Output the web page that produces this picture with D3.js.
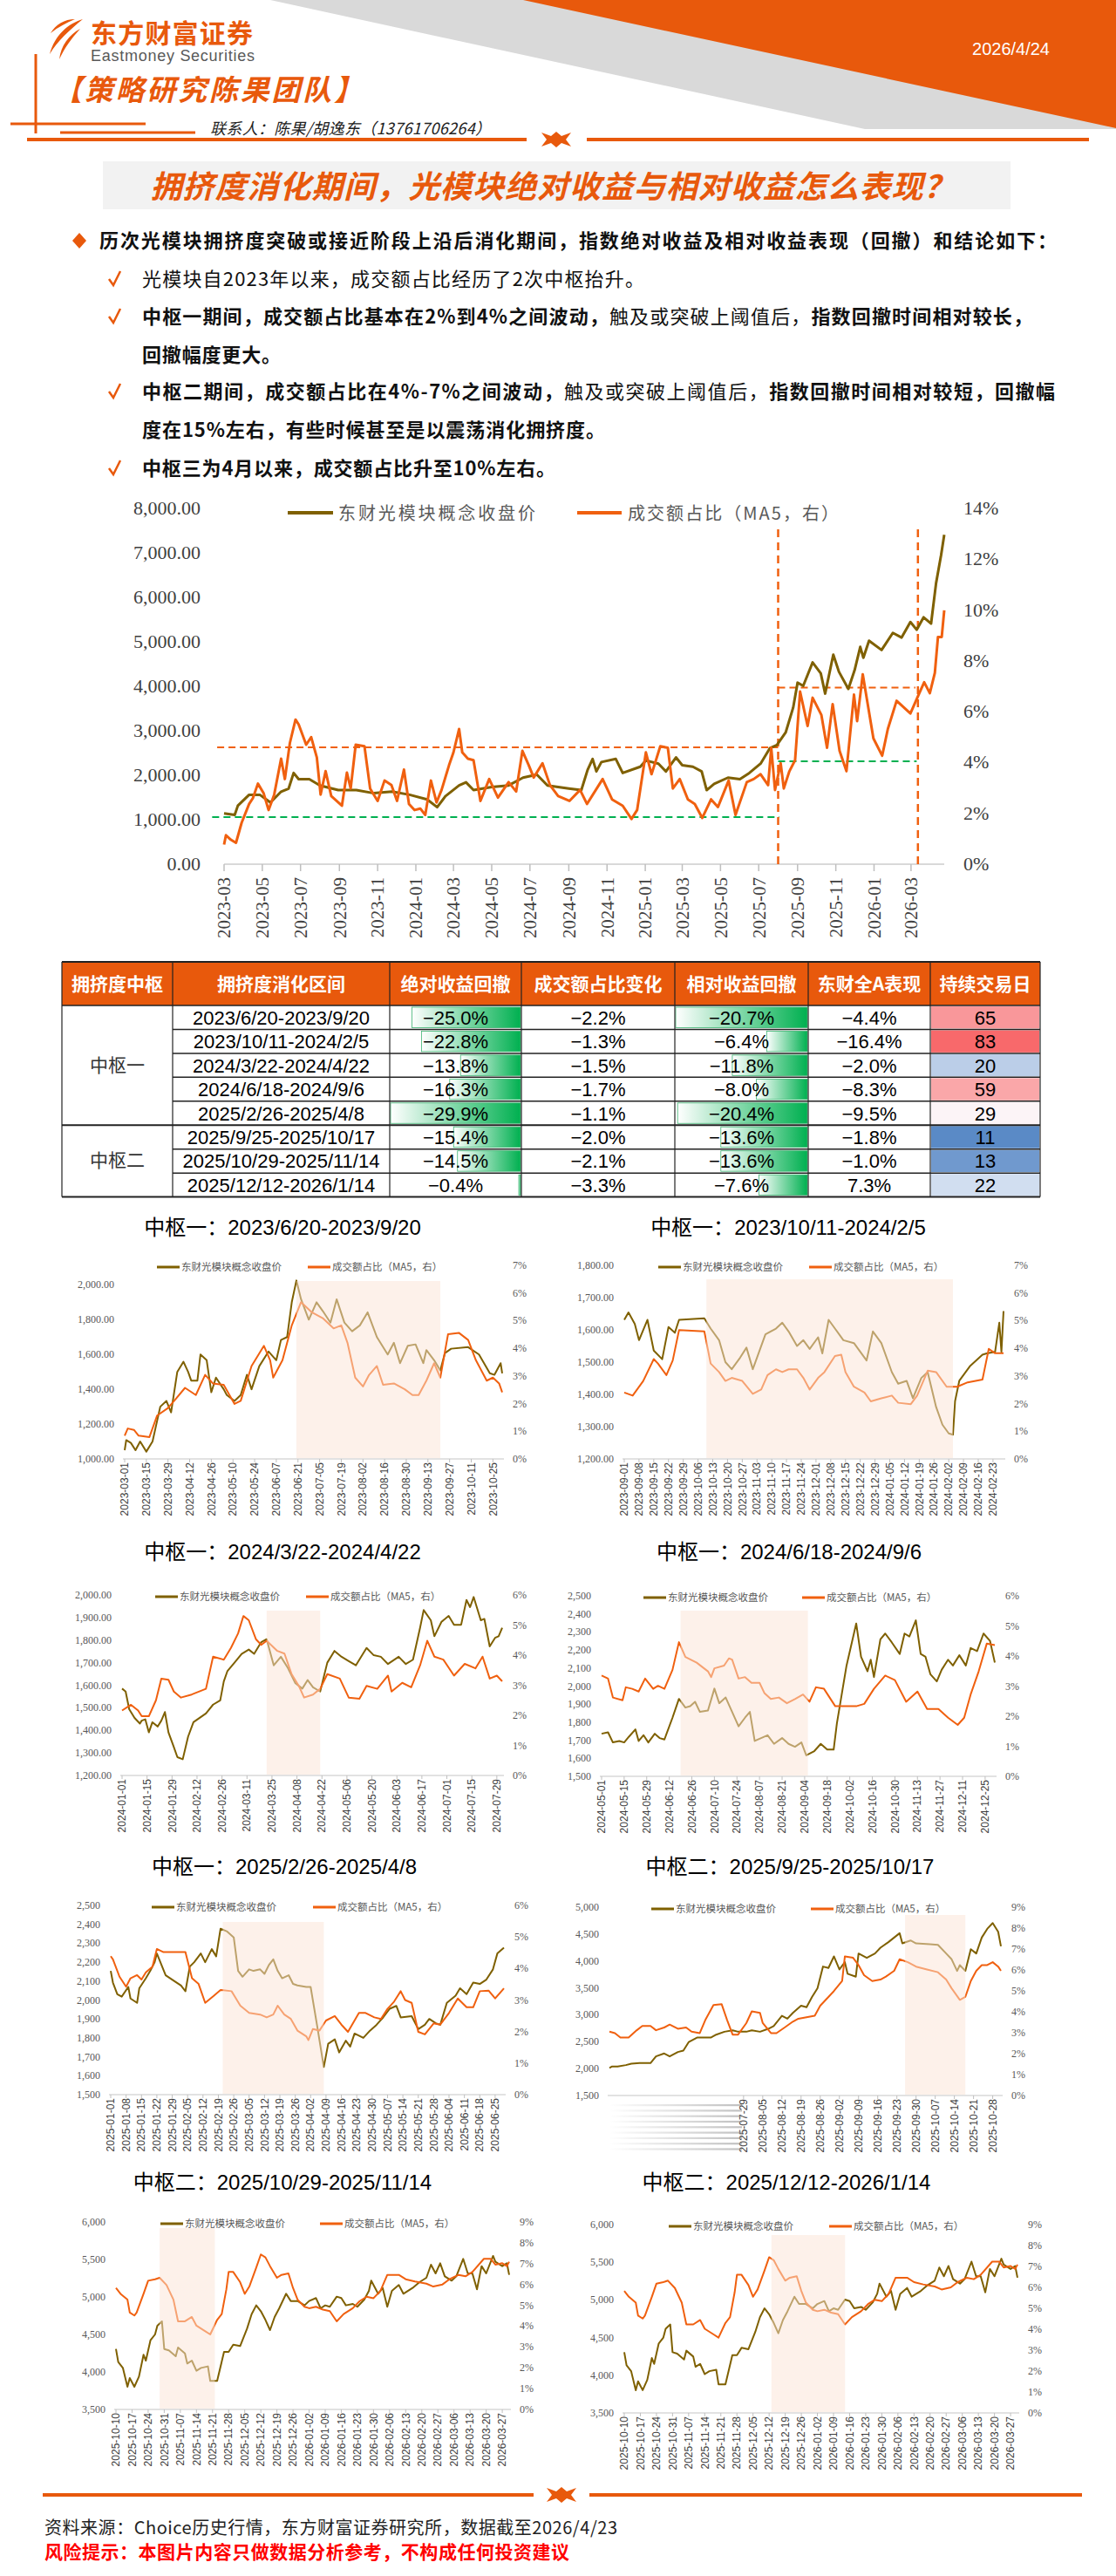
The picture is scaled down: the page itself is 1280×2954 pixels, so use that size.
<!DOCTYPE html>
<html>
<head>
<meta charset="utf-8">
<script src="https://cdn.jsdelivr.net/npm/d3@7"></script>
<style>
  body { margin: 0; background: #fff; }
  text { font-family: "Noto Sans CJK SC", sans-serif; }
</style>
</head>
<body>
<div id="page"></div>
<script>
// ---------- data ----------
var mainPrice = [["2023-03-01",1141],["2023-03-18",1106],["2023-03-23",1316],["2023-04-10",1561],["2023-04-27",1561],["2023-05-14",1386],["2023-05-31",1631],["2023-06-12",1700],["2023-06-20",2051],["2023-06-28",1911],["2023-07-15",1911],["2023-08-01",1771],["2023-08-30",1666],["2023-09-28",1666],["2023-10-26",1596],["2023-11-24",1631],["2023-12-22",1561],["2024-01-19",1456],["2024-02-04",1281],["2024-02-17",1526],["2024-03-10",1771],["2024-03-21",1841],["2024-04-02",1666],["2024-05-01",1736],["2024-05-28",1771],["2024-06-20",1946],["2024-07-12",2016],["2024-07-29",1771],["2024-08-15",1736],["2024-09-01",1701],["2024-09-21",1666],["2024-10-01",2121],["2024-10-09",2366],["2024-10-15",2086],["2024-10-23",2296],["2024-11-15",2366],["2024-11-26",2051],["2024-12-24",2191],["2025-01-02",2331],["2025-01-22",2261],["2025-02-03",2086],["2025-02-19",2401],["2025-03-01",2226],["2025-03-18",2191],["2025-04-01",2086],["2025-04-09",1666],["2025-04-21",1806],["2025-05-13",1946],["2025-06-01",1911],["2025-06-16",2051],["2025-07-04",2261],["2025-07-19",2611],["2025-07-30",2681],["2025-08-13",2961],["2025-08-25",3521],["2025-09-01",4081],["2025-09-10",4011],["2025-09-25",4536],["2025-10-08",4291],["2025-10-15",3836],["2025-10-28",4711],["2025-11-06",4326],["2025-11-21",3941],["2025-12-01",4361],["2025-12-10",4886],["2025-12-15",4641],["2025-12-24",5026],["2026-01-13",4816],["2026-01-31",5201],["2026-02-14",5096],["2026-02-28",5446],["2026-03-10",5271],["2026-03-21",5551],["2026-04-02",5411],["2026-04-10",6321],["2026-04-18",6951],["2026-04-23",7406]];

var mainRatio = [["2023-03-01",0.77],["2023-03-04",1.14],["2023-03-12",0.96],["2023-03-20",0.84],["2023-03-29",1.63],["2023-04-10",2.37],["2023-04-16",2.6],["2023-04-24",3.17],["2023-05-03",2.8],["2023-05-11",2.13],["2023-05-20",2.74],["2023-05-31",4.15],["2023-06-06",3.35],["2023-06-14",4.77],["2023-06-23",5.69],["2023-06-28",5.5],["2023-07-10",4.7],["2023-07-18",5.0],["2023-07-27",4.2],["2023-08-02",2.74],["2023-08-10",3.66],["2023-08-19",2.68],["2023-09-05",2.3],["2023-09-13",3.6],["2023-09-19",2.98],["2023-09-27",4.7],["2023-10-11",4.64],["2023-10-20",2.98],["2023-11-01",2.49],["2023-11-12",3.29],["2023-11-23",3.11],["2023-12-02",2.49],["2023-12-13",3.72],["2023-12-21",2.37],["2023-12-30",2.13],["2024-01-08",2.19],["2024-01-16",1.94],["2024-01-25",3.29],["2024-02-03",2.43],["2024-02-11",2.92],["2024-02-23",3.9],["2024-03-01",4.4],["2024-03-10",5.32],["2024-03-15",4.4],["2024-03-24",4.15],["2024-04-02",4.09],["2024-04-13",2.49],["2024-04-27",3.35],["2024-05-11",2.62],["2024-05-28",3.23],["2024-06-09",2.86],["2024-06-19",4.46],["2024-06-29",3.9],["2024-07-07",3.41],["2024-07-21",3.97],["2024-08-02",3.11],["2024-08-15",2.68],["2024-09-02",2.49],["2024-09-19",2.92],["2024-09-30",2.37],["2024-10-25",3.35],["2024-11-09",2.55],["2024-11-26",2.3],["2024-12-10",1.78],["2024-12-19",2.13],["2025-01-02",4.4],["2025-01-11",3.54],["2025-01-25",4.64],["2025-02-06",4.58],["2025-02-14",2.98],["2025-02-25",3.35],["2025-03-10",2.55],["2025-03-21",2.37],["2025-04-02",1.82],["2025-04-16",2.55],["2025-04-27",2.25],["2025-05-14",3.29],["2025-05-25",1.94],["2025-06-12",3.23],["2025-06-23",3.35],["2025-07-04",3.54],["2025-07-16",3.11],["2025-07-21",4.58],["2025-07-27",2.92],["2025-08-05",3.97],["2025-08-10",2.98],["2025-08-19",3.66],["2025-08-28",4.09],["2025-09-05",6.79],["2025-09-17",5.44],["2025-09-25",6.55],["2025-10-09",5.87],["2025-10-18",4.58],["2025-10-27",6.3],["2025-11-07",4.46],["2025-11-18",3.66],["2025-11-30",6.67],["2025-12-05",5.63],["2025-12-14",7.47],["2025-12-31",4.95],["2026-01-14",4.27],["2026-01-23",5.32],["2026-02-06",6.43],["2026-02-28",5.93],["2026-03-11",6.55],["2026-03-22",7.16],["2026-03-31",6.73],["2026-04-08",7.53],["2026-04-13",8.94],["2026-04-19",8.94],["2026-04-23",9.99]];

// threshold bands of the main chart (value in %, right axis)
var mainLevels = [
  {from: "2023-02-18", to: "2025-08-01", v: 4.6, c: "#f0600f"},
  {from: "2023-02-10", to: "2025-08-03", v: 1.85, c: "#00b050"},
  {from: "2025-08-01", to: "2026-03-08", v: 6.95, c: "#f0600f"},
  {from: "2025-08-01", to: "2026-03-10", v: 4.05, c: "#00b050"}
];
var mainMarks = ["2025-08-01", "2026-03-12"];

var c1Price = [["2023-03-01",1050],["2023-03-02",1108],["2023-03-05",1092],["2023-03-08",1050],["2023-03-11",1100],["2023-03-15",1042],["2023-03-19",1100],["2023-03-24",1300],["2023-03-28",1333],["2023-03-31",1267],["2023-04-04",1500],["2023-04-08",1558],["2023-04-11",1500],["2023-04-13",1450],["2023-04-17",1450],["2023-04-19",1600],["2023-04-23",1567],["2023-04-26",1383],["2023-04-29",1467],["2023-05-04",1400],["2023-05-06",1367],["2023-05-11",1333],["2023-05-15",1367],["2023-05-19",1483],["2023-05-22",1400],["2023-05-27",1533],["2023-06-02",1617],["2023-06-07",1567],["2023-06-10",1683],["2023-06-14",1700],["2023-06-17",1900],["2023-06-20",2025],["2023-06-23",1917],["2023-06-28",1800],["2023-07-03",1900],["2023-07-07",1850],["2023-07-12",1783],["2023-07-16",1917],["2023-07-21",1783],["2023-07-26",1733],["2023-07-31",1767],["2023-08-05",1842],["2023-08-11",1700],["2023-08-18",1600],["2023-08-22",1667],["2023-08-26",1550],["2023-08-31",1650],["2023-09-05",1658],["2023-09-10",1550],["2023-09-12",1625],["2023-09-17",1567],["2023-09-21",1508],["2023-09-24",1608],["2023-09-28",1633],["2023-10-09",1642],["2023-10-16",1600],["2023-10-23",1492],["2023-10-26",1483],["2023-10-30",1550],["2023-10-31",1492]];
var c1Ratio = [["2023-03-01",0.84],["2023-03-03",1.10],["2023-03-07",1.05],["2023-03-10",0.84],["2023-03-17",0.79],["2023-03-22",1.57],["2023-03-29",1.84],["2023-04-02",2.10],["2023-04-09",2.57],["2023-04-16",2.31],["2023-04-22",3.04],["2023-04-27",2.73],["2023-05-04",2.68],["2023-05-11",1.99],["2023-05-15",2.10],["2023-05-22",3.36],["2023-05-30",4.09],["2023-06-03",3.57],["2023-06-05",2.94],["2023-06-11",3.57],["2023-06-17",4.83],["2023-06-23",5.67],["2023-06-30",5.30],["2023-07-07",5.09],["2023-07-14",4.72],["2023-07-19",4.83],["2023-07-23",4.2],["2023-07-28",2.94],["2023-08-02",2.62],["2023-08-06",3.04],["2023-08-11",3.36],["2023-08-15",2.68],["2023-08-22",2.73],["2023-08-29",2.52],["2023-09-03",2.31],["2023-09-07",2.31],["2023-09-12",2.83],["2023-09-17",3.46],["2023-09-21",2.94],["2023-09-26",4.51],["2023-10-03",4.56],["2023-10-09",4.30],["2023-10-14",3.57],["2023-10-21",2.83],["2023-10-25",2.94],["2023-10-29",2.73],["2023-10-31",2.41]];

var c2Price = [["2023-09-01",1631],["2023-09-03",1654],["2023-09-06",1618],["2023-09-08",1568],["2023-09-12",1631],["2023-09-15",1536],["2023-09-19",1509],["2023-09-22",1609],["2023-09-25",1591],["2023-09-27",1631],["2023-10-09",1636],["2023-10-12",1604],["2023-10-16",1568],["2023-10-19",1500],["2023-10-22",1478],["2023-10-26",1514],["2023-10-29",1545],["2023-11-01",1478],["2023-11-03",1514],["2023-11-07",1586],["2023-11-12",1604],["2023-11-15",1622],["2023-11-18",1595],["2023-11-22",1550],["2023-11-25",1568],["2023-11-28",1541],["2023-12-02",1577],["2023-12-04",1527],["2023-12-07",1631],["2023-12-10",1604],["2023-12-14",1568],["2023-12-19",1559],["2023-12-22",1532],["2023-12-25",1505],["2023-12-28",1595],["2024-01-01",1559],["2024-01-06",1469],["2024-01-09",1433],["2024-01-13",1442],["2024-01-16",1388],["2024-01-20",1451],["2024-01-23",1469],["2024-01-27",1361],["2024-01-30",1306],["2024-02-02",1279],["2024-02-04",1275],["2024-02-05",1379],["2024-02-07",1442],["2024-02-12",1487],["2024-02-18",1523],["2024-02-20",1527],["2024-02-24",1532],["2024-02-26",1622],["2024-02-27",1532],["2024-02-28",1658]];
var c2Ratio = [["2023-09-01",2.4],["2023-09-05",2.29],["2023-09-10",2.82],["2023-09-15",3.61],["2023-09-17",3.45],["2023-09-21",3.03],["2023-09-24",3.56],["2023-09-27",4.66],["2023-10-09",4.61],["2023-10-12",3.45],["2023-10-16",3.14],["2023-10-19",2.82],["2023-10-22",2.93],["2023-10-27",2.82],["2023-11-01",2.35],["2023-11-05",2.51],["2023-11-08",3.03],["2023-11-12",3.24],["2023-11-15",3.14],["2023-11-18",3.24],["2023-11-22",3.24],["2023-11-25",2.93],["2023-11-28",2.51],["2023-12-02",2.93],["2023-12-05",3.14],["2023-12-10",3.72],["2023-12-13",3.77],["2023-12-15",3.14],["2023-12-19",2.61],["2023-12-24",2.4],["2023-12-27",2.08],["2024-01-01",2.19],["2024-01-06",2.29],["2024-01-09",2.03],["2024-01-15",1.98],["2024-01-18",2.29],["2024-01-23",3.19],["2024-01-27",3.14],["2024-02-01",2.61],["2024-02-06",2.61],["2024-02-11",2.77],["2024-02-18",2.87],["2024-02-21",3.98],["2024-02-24",3.82],["2024-02-28",3.82]];

var c3Price = [["2024-01-01",1585],["2024-01-03",1572],["2024-01-05",1494],["2024-01-08",1455],["2024-01-11",1430],["2024-01-12",1443],["2024-01-14",1449],["2024-01-16",1391],["2024-01-18",1436],["2024-01-21",1417],["2024-01-23",1443],["2024-01-25",1481],["2024-01-27",1391],["2024-01-30",1326],["2024-02-01",1281],["2024-02-04",1272],["2024-02-07",1372],["2024-02-10",1436],["2024-02-17",1475],["2024-02-21",1514],["2024-02-25",1533],["2024-02-27",1617],["2024-02-29",1662],["2024-03-04",1700],["2024-03-08",1739],["2024-03-12",1758],["2024-03-15",1739],["2024-03-19",1791],["2024-03-22",1804],["2024-03-26",1688],["2024-03-30",1726],["2024-04-03",1675],["2024-04-07",1610],["2024-04-11",1585],["2024-04-14",1623],["2024-04-17",1591],["2024-04-21",1572],["2024-04-25",1700],["2024-04-29",1752],["2024-05-03",1726],["2024-05-07",1707],["2024-05-11",1688],["2024-05-17",1765],["2024-05-21",1733],["2024-05-25",1726],["2024-05-29",1694],["2024-06-04",1726],["2024-06-08",1694],["2024-06-12",1713],["2024-06-16",1855],["2024-06-18",1933],["2024-06-22",1888],["2024-06-24",1817],["2024-06-28",1881],["2024-07-02",1907],["2024-07-05",1868],["2024-07-09",1868],["2024-07-12",1978],["2024-07-14",1946],["2024-07-16",1991],["2024-07-20",1888],["2024-07-22",1894],["2024-07-25",1772],["2024-07-28",1810],["2024-07-30",1817],["2024-08-01",1855]];
var c3Ratio = [["2024-01-01",2.16],["2024-01-06",2.35],["2024-01-10",2.16],["2024-01-12",1.97],["2024-01-16",1.97],["2024-01-20",2.5],["2024-01-23",3.22],["2024-01-27",3.18],["2024-01-30",2.79],["2024-02-03",2.59],["2024-02-09",2.69],["2024-02-17",2.88],["2024-02-21",3.95],["2024-02-27",3.85],["2024-03-02",4.24],["2024-03-06",4.72],["2024-03-09",5.3],["2024-03-12",5.16],["2024-03-16",4.53],["2024-03-19",4.34],["2024-03-22",4.48],["2024-03-28",4.14],["2024-04-01",4.05],["2024-04-05",3.37],["2024-04-09",2.98],["2024-04-12",2.59],["2024-04-17",2.69],["2024-04-21",2.88],["2024-04-25",3.37],["2024-05-02",3.22],["2024-05-07",2.59],["2024-05-13",2.55],["2024-05-17",2.98],["2024-05-23",2.88],["2024-05-29",3.32],["2024-05-31",2.79],["2024-06-06",3.08],["2024-06-11",2.93],["2024-06-16",3.66],["2024-06-20",4.48],["2024-06-24",3.95],["2024-06-29",3.85],["2024-07-05",3.32],["2024-07-11",3.71],["2024-07-17",3.56],["2024-07-21",3.95],["2024-07-25",3.22],["2024-07-29",3.32],["2024-08-01",3.13]];

var c4Price = [["2024-05-01",1736],["2024-05-05",1744],["2024-05-08",1688],["2024-05-12",1696],["2024-05-15",1688],["2024-05-18",1720],["2024-05-22",1760],["2024-05-24",1696],["2024-05-27",1728],["2024-05-30",1688],["2024-06-03",1736],["2024-06-06",1712],["2024-06-09",1704],["2024-06-14",1825],["2024-06-18",1929],["2024-06-22",1881],["2024-06-25",1889],["2024-06-28",1913],["2024-07-01",1857],["2024-07-06",1865],["2024-07-10",1986],["2024-07-13",1905],["2024-07-17",1937],["2024-07-21",1857],["2024-07-25",1777],["2024-07-29",1825],["2024-08-01",1857],["2024-08-04",1696],["2024-08-08",1712],["2024-08-12",1728],["2024-08-16",1680],["2024-08-21",1712],["2024-08-25",1680],["2024-08-29",1664],["2024-09-02",1688],["2024-09-05",1616],["2024-09-10",1640],["2024-09-14",1680],["2024-09-18",1648],["2024-09-22",1648],["2024-09-24",1793],["2024-09-30",2114],["2024-10-06",2347],["2024-10-09",2162],["2024-10-13",2082],["2024-10-15",2146],["2024-10-17",2050],["2024-10-21",2259],["2024-10-24",2291],["2024-10-28",2243],["2024-11-02",2178],["2024-11-05",2291],["2024-11-08",2275],["2024-11-12",2364],["2024-11-15",2178],["2024-11-18",2162],["2024-11-21",2066],["2024-11-25",2026],["2024-11-28",2090],["2024-12-02",2146],["2024-12-05",2114],["2024-12-09",2171],["2024-12-13",2114],["2024-12-16",2211],["2024-12-20",2194],["2024-12-24",2291],["2024-12-28",2251],["2024-12-31",2130]];
var c4Ratio = [["2024-05-01",3.35],["2024-05-05",3.25],["2024-05-08",2.62],["2024-05-14",2.53],["2024-05-16",2.96],["2024-05-20",2.91],["2024-05-24",2.82],["2024-05-28",3.25],["2024-06-02",2.91],["2024-06-05",3.01],["2024-06-09",2.91],["2024-06-14",3.54],["2024-06-18",4.46],["2024-06-22",3.97],["2024-06-29",3.78],["2024-07-06",3.49],["2024-07-08",3.3],["2024-07-10",3.59],["2024-07-16",3.68],["2024-07-19",3.92],["2024-07-21",3.88],["2024-07-25",3.25],["2024-07-29",3.3],["2024-08-02",3.11],["2024-08-07",3.11],["2024-08-10",2.77],["2024-08-14",2.57],["2024-08-19",2.62],["2024-08-24",2.43],["2024-08-29",2.57],["2024-09-03",2.72],["2024-09-07",2.48],["2024-09-11",2.96],["2024-09-16",2.91],["2024-09-23",2.33],["2024-09-30",2.33],["2024-10-06",2.33],["2024-10-11",2.41],["2024-10-17",2.91],["2024-10-24",3.35],["2024-10-30",3.2],["2024-11-06",2.48],["2024-11-13",2.82],["2024-11-19",2.24],["2024-11-26",2.24],["2024-12-02",1.95],["2024-12-08",1.71],["2024-12-12",1.95],["2024-12-16",2.72],["2024-12-21",3.49],["2024-12-26",4.41],["2024-12-31",4.36]];

var c5Price = [["2025-01-01",2154],["2025-01-02",2092],["2025-01-04",2031],["2025-01-06",2018],["2025-01-09",2069],["2025-01-10",2008],["2025-01-13",1985],["2025-01-14",2062],["2025-01-17",2115],["2025-01-19",2154],["2025-01-21",2200],["2025-01-22",2246],["2025-01-26",2131],["2025-01-30",2100],["2025-02-02",2077],["2025-02-04",2046],["2025-02-06",2177],["2025-02-08",2200],["2025-02-11",2246],["2025-02-13",2200],["2025-02-16",2269],["2025-02-18",2231],["2025-02-20",2377],["2025-02-23",2362],["2025-02-26",2331],["2025-02-28",2154],["2025-03-02",2123],["2025-03-05",2162],["2025-03-07",2154],["2025-03-10",2162],["2025-03-12",2138],["2025-03-14",2185],["2025-03-16",2215],["2025-03-18",2154],["2025-03-20",2115],["2025-03-23",2131],["2025-03-25",2085],["2025-03-27",2077],["2025-03-31",2069],["2025-04-02",2069],["2025-04-05",1861],["2025-04-08",1646],["2025-04-10",1769],["2025-04-13",1792],["2025-04-15",1723],["2025-04-18",1785],["2025-04-20",1754],["2025-04-22",1823],["2025-04-26",1800],["2025-04-29",1838],["2025-05-02",1869],["2025-05-05",1908],["2025-05-08",1954],["2025-05-11",1969],["2025-05-13",1908],["2025-05-18",1915],["2025-05-21",1846],["2025-05-24",1869],["2025-05-26",1900],["2025-05-29",1877],["2025-05-31",1869],["2025-06-03",1985],["2025-06-07",2023],["2025-06-09",2062],["2025-06-12",2031],["2025-06-15",2092],["2025-06-18",2085],["2025-06-21",2108],["2025-06-24",2162],["2025-06-26",2246],["2025-06-29",2277]];
var c5Ratio = [["2025-01-01",4.39],["2025-01-02",4.29],["2025-01-05",3.74],["2025-01-08",3.42],["2025-01-10",3.69],["2025-01-13",3.79],["2025-01-15",3.65],["2025-01-17",3.88],["2025-01-20",4.06],["2025-01-22",4.62],["2025-01-25",4.52],["2025-01-31",4.52],["2025-02-04",4.52],["2025-02-07",3.69],["2025-02-10",3.51],["2025-02-13",2.91],["2025-02-17",3.14],["2025-02-20",3.32],["2025-02-25",3.28],["2025-03-01",2.82],["2025-03-05",2.59],["2025-03-10",2.54],["2025-03-13",2.45],["2025-03-16",2.54],["2025-03-18",2.82],["2025-03-21",2.54],["2025-03-24",2.4],["2025-03-27",2.03],["2025-03-31",1.85],["2025-04-01",1.73],["2025-04-03",2.08],["2025-04-06",2.03],["2025-04-09",2.35],["2025-04-13",2.49],["2025-04-16",2.22],["2025-04-19",1.99],["2025-04-24",2.59],["2025-04-27",2.59],["2025-05-01",2.45],["2025-05-04",2.4],["2025-05-07",2.72],["2025-05-10",2.95],["2025-05-13",3.28],["2025-05-15",3.0],["2025-05-18",2.91],["2025-05-21",1.99],["2025-05-24",1.91],["2025-05-28",2.26],["2025-05-31",2.22],["2025-06-04",2.59],["2025-06-08",3.05],["2025-06-12",2.77],["2025-06-15",2.77],["2025-06-18",3.28],["2025-06-22",3.3],["2025-06-25",3.05],["2025-06-29",3.37]];

var c6Price = [["2025-06-10",2012],["2025-06-11",2039],["2025-06-13",2039],["2025-06-16",2065],["2025-06-18",2092],["2025-06-21",2103],["2025-06-25",2103],["2025-06-27",2227],["2025-06-30",2281],["2025-07-02",2227],["2025-07-05",2308],["2025-07-07",2335],["2025-07-09",2496],["2025-07-12",2577],["2025-07-14",2577],["2025-07-17",2577],["2025-07-19",2631],["2025-07-22",2685],["2025-07-25",2712],["2025-07-27",2685],["2025-07-30",2685],["2025-08-01",2712],["2025-08-04",2685],["2025-08-07",2739],["2025-08-09",2792],["2025-08-12",2981],["2025-08-14",2927],["2025-08-16",3035],["2025-08-19",3170],["2025-08-21",3142],["2025-08-23",3331],["2025-08-25",3492],["2025-08-27",3896],["2025-08-29",3869],["2025-08-31",4085],["2025-09-02",3842],["2025-09-04",3977],["2025-09-05",3762],["2025-09-08",3708],["2025-09-09",4139],["2025-09-12",4058],["2025-09-15",4139],["2025-09-17",4246],["2025-09-20",4354],["2025-09-22",4435],["2025-09-24",4516],["2025-09-25",4327],["2025-09-28",4381],["2025-09-30",4327],["2025-10-05",4311],["2025-10-08",4300],["2025-10-11",4139],["2025-10-13",4031],["2025-10-15",3815],["2025-10-16",3923],["2025-10-18",3815],["2025-10-20",4219],["2025-10-22",4139],["2025-10-24",4435],["2025-10-26",4596],["2025-10-28",4704],["2025-10-30",4543],["2025-10-31",4273]];
var c6Ratio = [["2025-06-10",3.05],["2025-06-12",2.98],["2025-06-14",2.77],["2025-06-17",2.77],["2025-06-20",3.12],["2025-06-22",3.32],["2025-06-25",3.32],["2025-06-27",3.12],["2025-06-30",3.25],["2025-07-02",3.39],["2025-07-05",3.19],["2025-07-08",3.25],["2025-07-10",3.05],["2025-07-13",2.98],["2025-07-15",3.6],["2025-07-18",4.32],["2025-07-21",4.36],["2025-07-23",3.6],["2025-07-25",2.91],["2025-07-27",2.91],["2025-07-30",3.46],["2025-08-01",4.02],["2025-08-04",3.95],["2025-08-05",3.46],["2025-08-08",2.98],["2025-08-10",2.98],["2025-08-13",3.25],["2025-08-16",3.53],["2025-08-18",3.67],["2025-08-21",3.74],["2025-08-24",3.81],["2025-08-26",4.29],["2025-08-29",4.71],["2025-08-31",4.99],["2025-09-03",5.47],["2025-09-04",6.65],["2025-09-07",6.58],["2025-09-09",6.23],["2025-09-11",5.75],["2025-09-14",5.47],["2025-09-17",5.54],["2025-09-19",5.68],["2025-09-22",5.96],["2025-09-24",6.51],["2025-09-27",6.37],["2025-09-30",6.16],["2025-10-04",6.02],["2025-10-08",5.89],["2025-10-11",5.54],["2025-10-13",5.12],["2025-10-16",4.57],["2025-10-18",4.71],["2025-10-20",5.47],["2025-10-22",5.96],["2025-10-24",6.23],["2025-10-26",6.23],["2025-10-28",6.37],["2025-10-30",6.16],["2025-10-31",5.96]];

var c7Price = [["2025-10-10",4306],["2025-10-11",4132],["2025-10-13",4054],["2025-10-15",3802],["2025-10-16",3919],["2025-10-18",3802],["2025-10-20",3938],["2025-10-22",4229],["2025-10-23",4151],["2025-10-25",4422],["2025-10-27",4500],["2025-10-28",4616],["2025-10-30",4674],["2025-10-31",4306],["2025-11-02",4287],["2025-11-05",4209],["2025-11-06",4326],["2025-11-09",4248],["2025-11-10",4112],["2025-11-12",4151],["2025-11-14",4015],["2025-11-16",4054],["2025-11-19",4074],["2025-11-20",3880],["2025-11-23",3880],["2025-11-26",4267],["2025-11-28",4267],["2025-11-30",4364],["2025-12-03",4345],["2025-12-06",4577],["2025-12-08",4771],["2025-12-10",4888],["2025-12-12",4810],["2025-12-14",4694],["2025-12-16",4558],["2025-12-18",4733],["2025-12-20",4849],["2025-12-23",5043],["2025-12-25",4946],["2025-12-28",4946],["2025-12-31",4888],["2026-01-02",4946],["2026-01-05",4985],["2026-01-07",4849],["2026-01-09",4888],["2026-01-11",4869],["2026-01-14",5004],["2026-01-16",4985],["2026-01-18",4888],["2026-01-21",4907],["2026-01-23",4869],["2026-01-26",4965],["2026-01-28",5081],["2026-01-29",5217],["2026-02-01",5043],["2026-02-03",5120],["2026-02-05",4869],["2026-02-07",5081],["2026-02-10",5159],["2026-02-12",5043],["2026-02-16",5120],["2026-02-19",5198],["2026-02-22",5256],["2026-02-24",5430],["2026-02-26",5314],["2026-02-28",5450],["2026-03-02",5275],["2026-03-05",5217],["2026-03-07",5275],["2026-03-10",5508],["2026-03-12",5314],["2026-03-14",5314],["2026-03-16",5101],["2026-03-18",5411],["2026-03-20",5314],["2026-03-23",5547],["2026-03-24",5469],["2026-03-27",5411],["2026-03-29",5450],["2026-03-30",5295]];
var c7Ratio = [["2025-10-10",5.83],["2025-10-12",5.55],["2025-10-15",5.27],["2025-10-16",4.65],["2025-10-18",4.51],["2025-10-19",4.65],["2025-10-22",5.55],["2025-10-24",6.18],["2025-10-27",6.25],["2025-10-29",6.32],["2025-11-01",5.97],["2025-11-04",5.27],["2025-11-06",4.23],["2025-11-09",4.23],["2025-11-12",4.44],["2025-11-14",4.02],["2025-11-18",3.74],["2025-11-20",3.6],["2025-11-23",4.3],["2025-11-25",4.58],["2025-11-27",5.76],["2025-11-28",6.6],["2025-11-30",6.6],["2025-12-03",6.11],["2025-12-05",5.55],["2025-12-07",5.9],["2025-12-10",6.81],["2025-12-12",7.44],["2025-12-14",7.3],["2025-12-16",6.88],["2025-12-19",6.32],["2025-12-21",6.46],["2025-12-24",6.53],["2025-12-26",5.83],["2025-12-28",5.27],["2025-12-31",4.93],["2026-01-02",4.86],["2026-01-05",4.93],["2026-01-08",4.79],["2026-01-11",4.72],["2026-01-14",4.23],["2026-01-17",4.58],["2026-01-21",4.86],["2026-01-24",5.2],["2026-01-27",5.41],["2026-01-30",5.34],["2026-02-02",5.69],["2026-02-05",6.46],["2026-02-10",6.46],["2026-02-13",6.25],["2026-02-17",6.14],["2026-02-22",6.04],["2026-02-25",5.9],["2026-03-01",6.0],["2026-03-04",6.25],["2026-03-08",6.46],["2026-03-11",6.39],["2026-03-14",6.6],["2026-03-19",7.23],["2026-03-22",7.23],["2026-03-24",6.95],["2026-03-27",7.02],["2026-03-29",6.88],["2026-03-30",7.09]];

// table
var tableHead = ["拥挤度中枢", "拥挤度消化区间", "绝对收益回撤", "成交额占比变化", "相对收益回撤", "东财全A表现", "持续交易日"];
var zoneNames = ["中枢一", "中枢二"];
var zoneRows = [5, 3];
var periods = ["2023/6/20-2023/9/20", "2023/10/11-2024/2/5", "2024/3/22-2024/4/22", "2024/6/18-2024/9/6", "2025/2/26-2025/4/8", "2025/9/25-2025/10/17", "2025/10/29-2025/11/14", "2025/12/12-2026/1/14"];
var absDraw = [-25.0, -22.8, -13.8, -16.3, -29.9, -15.4, -14.5, -0.4];
var shareChg = [-2.2, -1.3, -1.5, -1.7, -1.1, -2.0, -2.1, -3.3];
var relDraw = [-20.7, -6.4, -11.8, -8.0, -20.4, -13.6, -13.6, -7.6];
var allA = [-4.4, -16.4, -2.0, -8.3, -9.5, -1.8, -1.0, 7.3];
var holdDays = [65, 83, 20, 59, 29, 11, 13, 22];

// ---------- page ----------
var ORANGE = "#e8590c", OLIVE = "#7f6000", LINE_OR = "#f0600f";
var SERIF = "'Liberation Serif', 'Times New Roman', serif";
var SANS = "'Liberation Sans', Arial, sans-serif";
var parseDate = d3.timeParse("%Y-%m-%d");
var fmtDay = d3.timeFormat("%Y-%m-%d");

var svg = d3.select("#page").append("svg")
  .attr("width", 1280)
  .attr("height", 2954);

var defs = svg.append("defs");
var barGrad = defs.append("linearGradient").attr("id", "barGrad");
barGrad.append("stop").attr("offset", "0%").attr("stop-color", "#ffffff");
barGrad.append("stop").attr("offset", "100%").attr("stop-color", "#00b050");
var streak = defs.append("linearGradient").attr("id", "streak");
streak.append("stop").attr("offset", "0%").attr("stop-color", "#ffffff");
streak.append("stop").attr("offset", "100%").attr("stop-color", "#8c8c8c");

function emblem(cx, cy) {
  svg.append("path")
    .attr("transform", "translate(" + cx + "," + cy + ")")
    .attr("d", "M-17,-8 L-6,-4 L0,-9 L6,-4 L17,-8 L11,0 L17,8 L6,4 L0,9 L-6,4 L-17,8 L-11,0 Z")
    .attr("fill", ORANGE);
}

// header decoration
svg.append("polygon").attr("points", "310,0 1280,0 1280,148 992,148").attr("fill", "#d9d9d9");
svg.append("polygon").attr("points", "600,0 1280,0 1280,147").attr("fill", ORANGE);
svg.append("text").attr("x", 1204).attr("y", 63).attr("text-anchor", "end")
  .style("font-family", SANS).style("font-size", "20px").attr("fill", "#fff").text("2026/4/24");

// logo
svg.append("path").attr("d", "M95,22 C78,27 63,40 57,62 C66,47 79,35 95,22 Z").attr("fill", ORANGE);
svg.append("path").attr("d", "M92,33 C79,40 70,52 68,68 C74,55 82,44 92,33 Z").attr("fill", ORANGE);
svg.append("path").attr("d", "M86,22 C74,22 64,28 58,38 C67,31 76,26 86,22 Z").attr("fill", ORANGE);
svg.append("text").attr("x", 104).attr("y", 49).attr("textLength", 186)
  .style("font-size", "30px").style("font-weight", "bold").attr("fill", ORANGE).text("东方财富证券");
svg.append("text").attr("x", 104).attr("y", 70).attr("textLength", 188)
  .style("font-family", SANS).style("font-size", "18px").attr("fill", "#595959").text("Eastmoney Securities");

svg.append("line").attr("x1", 41).attr("x2", 41).attr("y1", 62).attr("y2", 153).attr("stroke", ORANGE).attr("stroke-width", 3);
svg.append("line").attr("x1", 12).attr("x2", 167).attr("y1", 142).attr("y2", 142).attr("stroke", ORANGE).attr("stroke-width", 3);
svg.append("line").attr("x1", 69).attr("x2", 224).attr("y1", 152).attr("y2", 152).attr("stroke", ORANGE).attr("stroke-width", 3);
svg.append("text").attr("x", 61).attr("y", 115).attr("textLength", 355)
  .style("font-size", "33px").style("font-weight", "bold").style("font-style", "italic")
  .attr("fill", ORANGE).text("【策略研究陈果团队】");
svg.append("text").attr("x", 241).attr("y", 154).attr("textLength", 322)
  .style("font-size", "18px").style("font-style", "italic").attr("fill", "#222")
  .text("联系人：陈果/胡逸东（13761706264）");

svg.append("line").attr("x1", 31).attr("x2", 604).attr("y1", 160).attr("y2", 160).attr("stroke", ORANGE).attr("stroke-width", 4);
svg.append("line").attr("x1", 673).attr("x2", 1249).attr("y1", 160).attr("y2", 160).attr("stroke", ORANGE).attr("stroke-width", 4);
emblem(638, 160);

// title box
svg.append("rect").attr("x", 118).attr("y", 185).attr("width", 1041).attr("height", 55).attr("fill", "#f2f2f2");
svg.append("text").attr("x", 634).attr("y", 227).attr("text-anchor", "middle").attr("textLength", 923)
  .style("font-size", "36px").style("font-weight", "bold").style("font-style", "italic")
  .attr("fill", ORANGE).text("拥挤度消化期间，光模块绝对收益与相对收益怎么表现？");

// bullet text
var bulletLines = [
  {y: 276, x: 114, len: 1098, mark: "diamond", parts: [["历次光模块拥挤度突破或接近阶段上沿后消化期间，指数绝对收益及相对收益表现（回撤）和结论如下：", 1]]},
  {y: 320, x: 163, len: 576, mark: "check", parts: [["光模块自2023年以来，成交额占比经历了2次中枢抬升。", 0]]},
  {y: 363, x: 163, len: 1021, mark: "check", parts: [["中枢一期间，成交额占比基本在2%到4%之间波动，", 1], ["触及或突破上阈值后，", 0], ["指数回撤时间相对较长，", 1]]},
  {y: 407, x: 163, len: 159, mark: null, parts: [["回撤幅度更大。", 1]]},
  {y: 449, x: 163, len: 1047, mark: "check", parts: [["中枢二期间，成交额占比在4%-7%之间波动，", 1], ["触及或突破上阈值后，", 0], ["指数回撤时间相对较短，回撤幅", 1]]},
  {y: 493, x: 163, len: 531, mark: null, parts: [["度在15%左右，有些时候甚至是以震荡消化拥挤度。", 1]]},
  {y: 537, x: 163, len: 474, mark: "check", parts: [["中枢三为4月以来，成交额占比升至10%左右。", 1]]}
];
bulletLines.forEach(function(b) {
  if (b.mark == "diamond") {
    svg.append("polygon").attr("points", "91,267 99,276 91,285 83,276").attr("fill", ORANGE);
  } else if (b.mark == "check") {
    svg.append("path").attr("transform", "translate(131," + b.y + ")")
      .attr("d", "M-6,0 L-1,7 L7,-9").attr("fill", "none").attr("stroke", ORANGE).attr("stroke-width", 2.5);
  }
  var t = svg.append("text").attr("x", b.x).attr("y", b.y + 8)
    .attr("textLength", b.len).attr("lengthAdjust", "spacing")
    .style("font-size", "22px").attr("fill", "#111");
  b.parts.forEach(function(p) {
    t.append("tspan").style("font-weight", p[1] ? "bold" : "normal").text(p[0]);
  });
});

// ---------- main chart ----------
var mx = d3.scaleTime().domain([parseDate("2023-03-01"), parseDate("2026-04-23")]).range([257, 1083]);
var myL = d3.scaleLinear().domain([0, 8000]).range([991, 583]);
var myR = d3.scaleLinear().domain([0, 14]).range([991, 583]);
var main = svg.append("g");

main.selectAll(".yl").data(d3.range(0, 8001, 1000)).enter().append("text")
  .attr("x", 230).attr("y", function(d) { return myL(d) + 7; })
  .attr("text-anchor", "end").style("font-family", SERIF).style("font-size", "22px").attr("fill", "#404040")
  .text(d3.format(",.2f"));
main.selectAll(".yr").data(d3.range(0, 15, 2)).enter().append("text")
  .attr("x", 1105).attr("y", function(d) { return myR(d) + 7; })
  .style("font-family", SERIF).style("font-size", "22px").attr("fill", "#404040")
  .text(function(d) { return d + "%"; });

main.append("line").attr("x1", 257).attr("x2", 1083).attr("y1", 991).attr("y2", 991)
  .attr("stroke", "#d9d9d9").attr("stroke-width", 2);
var mTicks = d3.timeMonth.range(new Date(2023, 2, 1), new Date(2026, 3, 1), 2);
main.selectAll(".xt").data(mTicks).enter().append("line")
  .attr("x1", function(d) { return mx(d); }).attr("x2", function(d) { return mx(d); })
  .attr("y1", 991).attr("y2", 999).attr("stroke", "#bfbfbf").attr("stroke-width", 1.5);
main.selectAll(".xl").data(mTicks).enter().append("text")
  .attr("transform", function(d) { return "translate(" + mx(d) + ",1006) rotate(-90)"; })
  .attr("dy", "0.35em").attr("text-anchor", "end")
  .style("font-family", SERIF).style("font-size", "21px").attr("fill", "#404040")
  .text(d3.timeFormat("%Y-%m"));

// dashed levels
main.selectAll(".lv").data(mainLevels).enter().append("line")
  .attr("x1", function(d) { return mx(parseDate(d.from)); })
  .attr("x2", function(d) { return mx(parseDate(d.to)); })
  .attr("y1", function(d) { return myR(d.v); }).attr("y2", function(d) { return myR(d.v); })
  .attr("stroke", function(d) { return d.c; }).attr("stroke-width", 2).attr("stroke-dasharray", "8,5");
main.selectAll(".mk").data(mainMarks).enter().append("line")
  .attr("x1", function(d) { return mx(parseDate(d)); }).attr("x2", function(d) { return mx(parseDate(d)); })
  .attr("y1", myR(0)).attr("y2", myR(13.25))
  .attr("stroke", LINE_OR).attr("stroke-width", 2.5).attr("stroke-dasharray", "9,6");

main.append("path").datum(mainPrice)
  .attr("d", d3.line().x(function(d) { return mx(parseDate(d[0])); }).y(function(d) { return myL(d[1]); }))
  .attr("fill", "none").attr("stroke", OLIVE).attr("stroke-width", 3).attr("stroke-linejoin", "round");
main.append("path").datum(mainRatio)
  .attr("d", d3.line().x(function(d) { return mx(parseDate(d[0])); }).y(function(d) { return myR(d[1]); }))
  .attr("fill", "none").attr("stroke", LINE_OR).attr("stroke-width", 3).attr("stroke-linejoin", "round");

// main legend
main.append("line").attr("x1", 330).attr("x2", 382).attr("y1", 588).attr("y2", 588).attr("stroke", OLIVE).attr("stroke-width", 4);
main.append("text").attr("x", 388).attr("y", 596).attr("textLength", 226)
  .style("font-size", "20px").attr("fill", "#595959").text("东财光模块概念收盘价");
main.append("line").attr("x1", 662).attr("x2", 713).attr("y1", 588).attr("y2", 588).attr("stroke", LINE_OR).attr("stroke-width", 4);
main.append("text").attr("x", 720).attr("y", 596).attr("textLength", 242)
  .style("font-size", "20px").attr("fill", "#595959").text("成交额占比（MA5，右）");

// ---------- table ----------
var colX = [71, 198, 447, 598, 774, 927, 1067, 1193];
var headTop = 1103, rowTop = 1153, rowH = 27.45;
var tbl = svg.append("g");
var dayColor = d3.scaleLinear().domain([11, 26, 83]).range(["#5a8ac6", "#fcfcff", "#f8696b"]);
var fmtPct = function(v) { return d3.format(".1f")(v) + "%"; };

tbl.append("rect").attr("x", colX[0]).attr("y", headTop).attr("width", colX[7] - colX[0])
  .attr("height", rowTop - headTop).attr("fill", ORANGE);
tableHead.forEach(function(h, i) {
  tbl.append("text").attr("x", (colX[i] + colX[i + 1]) / 2).attr("y", headTop + 33)
    .attr("text-anchor", "middle").style("font-size", "21px").style("font-weight", "bold")
    .attr("fill", "#fff").text(h);
});

var rowY = function(i) { return rowTop + i * rowH; };
// bars and colour cells
absDraw.forEach(function(v, i) {
  var w = Math.abs(v) / 29.9 * (colX[3] - colX[2] - 2);
  tbl.append("rect").attr("x", colX[3] - 1 - w).attr("y", rowY(i) + 2).attr("width", w).attr("height", rowH - 4)
    .attr("fill", "url(#barGrad)").attr("stroke", "#3cb371").attr("stroke-width", 0.8);
});
relDraw.forEach(function(v, i) {
  var w = Math.abs(v) / 20.7 * (colX[5] - colX[4] - 2);
  tbl.append("rect").attr("x", colX[5] - 1 - w).attr("y", rowY(i) + 2).attr("width", w).attr("height", rowH - 4)
    .attr("fill", "url(#barGrad)").attr("stroke", "#3cb371").attr("stroke-width", 0.8);
});
holdDays.forEach(function(v, i) {
  tbl.append("rect").attr("x", colX[6] + 1).attr("y", rowY(i) + 1).attr("width", colX[7] - colX[6] - 2)
    .attr("height", rowH - 2).attr("fill", dayColor(v));
});

// cell texts
var cols = [periods, absDraw.map(fmtPct), shareChg.map(fmtPct), relDraw.map(fmtPct), allA.map(fmtPct), holdDays];
cols.forEach(function(arr, c) {
  arr.forEach(function(v, i) {
    tbl.append("text").attr("x", (colX[c + 1] + colX[c + 2]) / 2).attr("y", rowY(i) + rowH / 2 + 8)
      .attr("text-anchor", "middle").style("font-family", SANS).style("font-size", "22px")
      .attr("fill", "#000").text(v);
  });
});
var r0 = 0;
zoneNames.forEach(function(z, k) {
  var yc = rowY(r0) + zoneRows[k] * rowH / 2;
  tbl.append("text").attr("x", (colX[0] + colX[1]) / 2).attr("y", yc + 7)
    .attr("text-anchor", "middle").style("font-size", "21px").attr("fill", "#333").text(z);
  r0 += zoneRows[k];
});

// grid lines
colX.forEach(function(x) {
  tbl.append("line").attr("x1", x).attr("x2", x).attr("y1", headTop).attr("y2", rowY(8))
    .attr("stroke", "#222").attr("stroke-width", 1.2);
});
d3.range(1, 9).forEach(function(i) {
  var full = (i == 5 || i == 8);
  tbl.append("line").attr("x1", full ? colX[0] : colX[1]).attr("x2", colX[7])
    .attr("y1", rowY(i)).attr("y2", rowY(i)).attr("stroke", "#222").attr("stroke-width", full ? 2 : 1.5);
});
tbl.append("line").attr("x1", colX[0]).attr("x2", colX[7]).attr("y1", headTop).attr("y2", headTop)
  .attr("stroke", "#222").attr("stroke-width", 2);
tbl.append("line").attr("x1", colX[0]).attr("x2", colX[7]).attr("y1", rowTop).attr("y2", rowTop)
  .attr("stroke", "#222").attr("stroke-width", 1.5);

// ---------- small charts ----------
var panels = [
  {title: "中枢一：", range: "2023/6/20-2023/9/20", tx: 324, ty: 1416, left: 143, right: 576, top: 1451, bottom: 1673,
   start: "2023-03-01", end: "2023-10-31", yL: [1000, 2112], yTop: 2000, yStep: 200, dec: true, yR: 7,
   shade: ["2023-06-20", "2023-09-21"], shadeOff: 18, tick0: "2023-03-01", tickStep: 14, tickN: 18, leg: [180, 353]},
  {title: "中枢一：", range: "2023/10/11-2024/2/5", tx: 904, ty: 1416, left: 716, right: 1151, top: 1451, bottom: 1673,
   start: "2023-09-01", end: "2024-02-28", yL: [1200, 1800], yTop: 1800, yStep: 100, dec: true, yR: 7,
   shade: ["2023-10-10", "2024-02-04"], shadeOff: 16, tick0: "2023-09-01", tickStep: 7, tickN: 26, leg: [755, 928]},
  {title: "中枢一：", range: "2024/3/22-2024/4/22", tx: 324, ty: 1788, left: 140, right: 576, top: 1829, bottom: 2036,
   start: "2024-01-01", end: "2024-08-01", yL: [1200, 2000], yTop: 2000, yStep: 100, dec: true, yR: 6,
   shade: ["2024-03-22", "2024-04-21"], shadeOff: 18, tick0: "2024-01-01", tickStep: 14, tickN: 16, leg: [178, 351]},
  {title: "中枢一：", range: "2024/6/18-2024/9/6", tx: 905, ty: 1788, left: 690, right: 1141, top: 1830, bottom: 2037,
   start: "2024-05-01", end: "2024-12-31", yL: [1500, 2500], yTop: 2500, yStep: 100, dec: false, yR: 6,
   shade: ["2024-06-19", "2024-09-06"], shadeOff: 17, tick0: "2024-05-01", tickStep: 14, tickN: 18, leg: [738, 920]},
  {title: "中枢一：", range: "2025/2/26-2025/4/8", tx: 326, ty: 2149, left: 127, right: 578, top: 2185, bottom: 2402,
   start: "2025-01-01", end: "2025-06-29", yL: [1500, 2500], yTop: 2500, yStep: 100, dec: false, yR: 6,
   shade: ["2025-02-21", "2025-04-08"], shadeOff: 19, tick0: "2025-01-01", tickStep: 7, tickN: 26, leg: [174, 359]},
  {title: "中枢二：", range: "2025/9/25-2025/10/17", tx: 906, ty: 2149, left: 699, right: 1148, top: 2187, bottom: 2403,
   start: "2025-06-10", end: "2025-10-31", yL: [1500, 5000], yTop: 5000, yStep: 500, dec: false, yR: 9,
   shade: ["2025-09-26", "2025-10-18"], shadeOff: 9, tick0: "2025-07-29", tickStep: 7, tickN: 14, leg: [747, 930], streaks: true},
  {title: "中枢二：", range: "2025/10/29-2025/11/14", tx: 324, ty: 2511, left: 133, right: 584, top: 2548, bottom: 2763,
   start: "2025-10-10", end: "2026-03-30", yL: [3500, 6000], yTop: 6000, yStep: 500, dec: false, yR: 9,
   shade: ["2025-10-29", "2025-11-22"], shadeOff: 7, tick0: "2025-10-10", tickStep: 7, tickN: 25, leg: [184, 367]},
  {title: "中枢二：", range: "2025/12/12-2026/1/14", tx: 902, ty: 2511, left: 716, right: 1167, top: 2551, bottom: 2767,
   start: "2025-10-10", end: "2026-03-30", yL: [3500, 6000], yTop: 6000, yStep: 500, dec: false, yR: 9,
   shade: ["2025-12-13", "2026-01-14"], shadeOff: 12, tick0: "2025-10-10", tickStep: 7, tickN: 25, leg: [767, 951]}
];
var panelData = [[c1Price, c1Ratio], [c2Price, c2Ratio], [c3Price, c3Ratio], [c4Price, c4Ratio],
                 [c5Price, c5Ratio], [c6Price, c6Ratio], [c7Price, c7Ratio], [c7Price, c7Ratio]];

function drawPanel(p, data) {
  var g = svg.append("g");
  var x = d3.scaleTime().domain([parseDate(p.start), parseDate(p.end)]).range([p.left, p.right]);
  var yL = d3.scaleLinear().domain(p.yL).range([p.bottom, p.top]);
  var yR = d3.scaleLinear().domain([0, p.yR]).range([p.bottom, p.top]);

  // title
  var t = g.append("text").attr("x", p.tx).attr("y", p.ty).attr("text-anchor", "middle")
    .style("font-size", "24px").attr("fill", "#000");
  t.append("tspan").text(p.title);
  t.append("tspan").style("font-family", SANS).text(p.range);

  // axes
  g.selectAll(".l").data(d3.range(p.yL[0], p.yTop + 1, p.yStep)).enter().append("text")
    .attr("x", p.left - 12).attr("y", function(d) { return yL(d) + 4; }).attr("text-anchor", "end")
    .style("font-family", SERIF).style("font-size", "12px").attr("fill", "#595959")
    .text(d3.format(p.dec ? ",.2f" : ","));
  g.selectAll(".r").data(d3.range(0, p.yR + 1)).enter().append("text")
    .attr("x", p.right + 12).attr("y", function(d) { return yR(d) + 4; })
    .style("font-family", SERIF).style("font-size", "12px").attr("fill", "#595959")
    .text(function(d) { return d + "%"; });
  g.append("line").attr("x1", p.left - 2).attr("x2", p.right + 2).attr("y1", p.bottom).attr("y2", p.bottom)
    .attr("stroke", "#d9d9d9").attr("stroke-width", 1.5);
  var ticks = d3.range(p.tickN).map(function(i) { return d3.timeDay.offset(parseDate(p.tick0), i * p.tickStep); });
  g.selectAll(".tk").data(ticks).enter().append("line")
    .attr("x1", function(d) { return x(d); }).attr("x2", function(d) { return x(d); })
    .attr("y1", p.bottom).attr("y2", p.bottom + 4).attr("stroke", "#bfbfbf");
  g.selectAll(".xl").data(ticks).enter().append("text")
    .attr("transform", function(d) { return "translate(" + x(d) + "," + (p.bottom + 4) + ") rotate(-90)"; })
    .attr("dy", "0.35em").attr("text-anchor", "end")
    .style("font-family", SANS).style("font-size", "12px").attr("fill", "#404040")
    .text(fmtDay);
  if (p.streaks) {
    d3.range(9).forEach(function(i) {
      g.append("rect").attr("x", p.left).attr("y", p.bottom + 10 + i * 6.3).attr("width", 152).attr("height", 2.2)
        .attr("fill", "url(#streak)").attr("opacity", 0.55);
    });
  }

  // series
  g.append("path").datum(data[0])
    .attr("d", d3.line().x(function(d) { return x(parseDate(d[0])); }).y(function(d) { return yL(d[1]); }))
    .attr("fill", "none").attr("stroke", OLIVE).attr("stroke-width", 2).attr("stroke-linejoin", "round");
  g.append("path").datum(data[1])
    .attr("d", d3.line().x(function(d) { return x(parseDate(d[0])); }).y(function(d) { return yR(d[1]); }))
    .attr("fill", "none").attr("stroke", LINE_OR).attr("stroke-width", 2).attr("stroke-linejoin", "round");

  // shaded digestion window on top
  var s0 = x(parseDate(p.shade[0])), s1 = x(parseDate(p.shade[1]));
  g.append("rect").attr("x", s0).attr("y", p.top + p.shadeOff).attr("width", s1 - s0)
    .attr("height", p.bottom - p.top - p.shadeOff - 1).attr("fill", "#fbe4d5").attr("opacity", 0.5);

  // legend
  var ly = p.top + 2;
  g.append("line").attr("x1", p.leg[0]).attr("x2", p.leg[0] + 26).attr("y1", ly).attr("y2", ly)
    .attr("stroke", OLIVE).attr("stroke-width", 3);
  g.append("text").attr("x", p.leg[0] + 28).attr("y", ly + 4).style("font-size", "11.5px")
    .attr("fill", "#595959").text("东财光模块概念收盘价");
  g.append("line").attr("x1", p.leg[1]).attr("x2", p.leg[1] + 26).attr("y1", ly).attr("y2", ly)
    .attr("stroke", LINE_OR).attr("stroke-width", 3);
  g.append("text").attr("x", p.leg[1] + 28).attr("y", ly + 4).style("font-size", "11.5px")
    .attr("fill", "#595959").text("成交额占比（MA5，右）");
}
panels.forEach(function(p, i) { drawPanel(p, panelData[i]); });

// ---------- footer ----------
svg.append("line").attr("x1", 49).attr("x2", 612).attr("y1", 2861).attr("y2", 2861).attr("stroke", ORANGE).attr("stroke-width", 4);
svg.append("line").attr("x1", 676).attr("x2", 1241).attr("y1", 2861).attr("y2", 2861).attr("stroke", ORANGE).attr("stroke-width", 4);
emblem(644, 2861);
svg.append("text").attr("x", 51).attr("y", 2906).attr("textLength", 657)
  .style("font-size", "20px").attr("fill", "#222")
  .text("资料来源：Choice历史行情，东方财富证券研究所，数据截至2026/4/23");
svg.append("text").attr("x", 51).attr("y", 2934).attr("textLength", 602)
  .style("font-size", "21px").style("font-weight", "bold").attr("fill", "#ff0000")
  .text("风险提示：本图片内容只做数据分析参考，不构成任何投资建议");
</script>
</body>
</html>
